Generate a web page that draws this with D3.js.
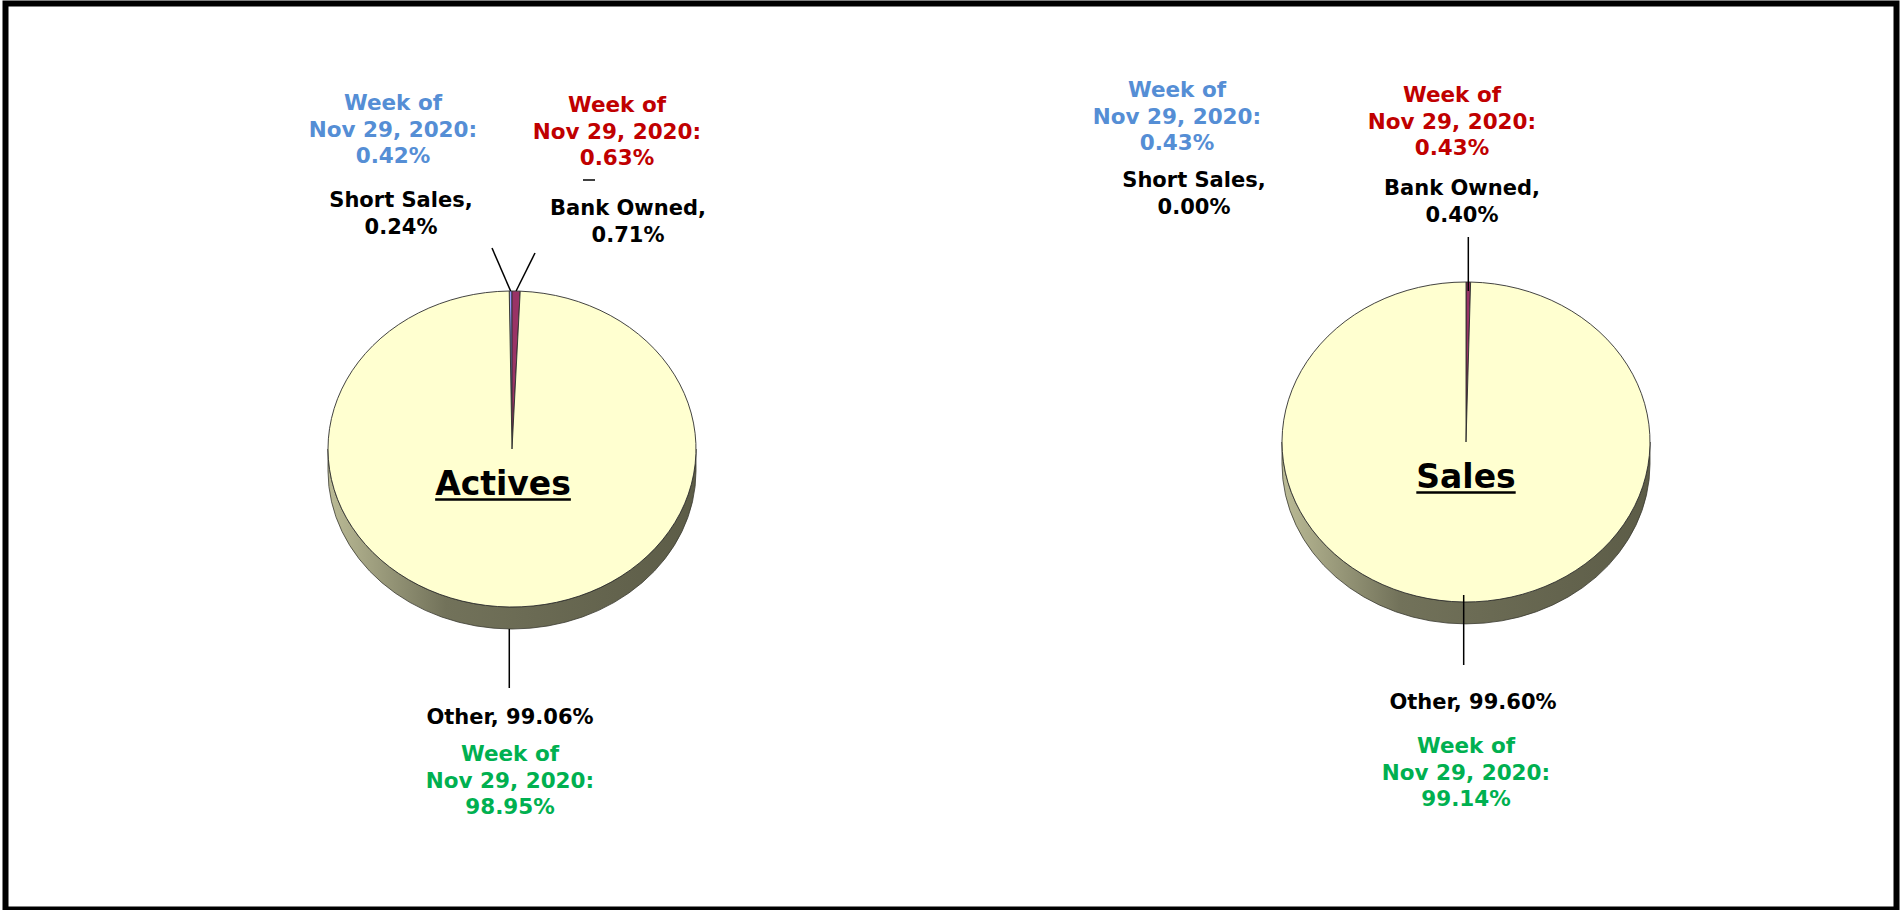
<!DOCTYPE html>
<html>
<head>
<meta charset="utf-8">
<script src="https://cdn.jsdelivr.net/npm/d3@7"></script>
<style>
  html, body { margin: 0; padding: 0; background: #fff; }
  svg text { font-family: "DejaVu Sans", Lato, sans-serif; font-weight: 700; }
</style>
</head>
<body>
<div id="chart"></div>
<script>
// data
const categories = ["Short Sales", "Bank Owned", "Other"];
const pieTitles = ["Actives", "Sales"];
const activesValues = [0.24, 0.71, 99.06];
const salesValues = [0.00, 0.40, 99.60];
const activesPrevWeek = [0.42, 0.63, 98.95];
const salesPrevWeek = [0.43, 0.43, 99.14];
const prevWeekText = ["Week of", "Nov 29, 2020:"];

const sliceColors = ["#9999FF", "#993366", "#FFFFD0"];
const prevColors = ["#558ED5", "#C00000", "#00B050"];

const width = 1902, height = 910;

const svg = d3.select("#chart").append("svg")
  .attr("width", width)
  .attr("height", height);

// side gradient
const grad = svg.append("defs").append("linearGradient")
  .attr("id", "side").attr("x1", "0%").attr("x2", "100%");
grad.append("stop").attr("offset", "0%").attr("stop-color", "#BBBB96");
grad.append("stop").attr("offset", "32%").attr("stop-color", "#72725A");
grad.append("stop").attr("offset", "100%").attr("stop-color", "#5C5C47");

// frame
svg.append("rect")
  .attr("x", 5.5).attr("y", 3.5)
  .attr("width", 1891).attr("height", 906)
  .attr("fill", "none").attr("stroke", "#000").attr("stroke-width", 6);

// layout per pie; leader = [end x or null for vertical, end y, start dy]
const layouts = [
  {
    cx: 512, cy: 449, rx: 184, ry: 158, depth: 22,
    labels: [[401, 207], [628, 215], [510, 724]],
    prev: [[393, 110], [617, 112], [510, 761]],
    leaders: [[492, 248, 0], [535, 253, 0], [null, 688, 22]],
    titleDx: -9,
    dash: true
  },
  {
    cx: 1466, cy: 442, rx: 184, ry: 160, depth: 22,
    labels: [[1194, 187], [1462, 195], [1473, 709]],
    prev: [[1177, 97], [1452, 102], [1466, 753]],
    leaders: [null, [null, 237, 9], [null, 665, -7]],
    titleDx: 0,
    dash: false
  }
];

const pie = d3.pie().sort(null).value(d => d);

function drawPie(values, prevValues, title, L) {
  const g = svg.append("g");
  // rotate so that the first slice ends at 12 o'clock
  const total = d3.sum(values);
  const start = -values[0] / total * 2 * Math.PI;
  const arcs = pie.startAngle(start).endAngle(start + 2 * Math.PI)(values);

  const pt = a => [L.cx + L.rx * Math.sin(a), L.cy - L.ry * Math.cos(a)];

  // side wall (front half)
  g.append("path")
    .attr("d", `M${L.cx - L.rx},${L.cy} A${L.rx},${L.ry} 0 0 0 ${L.cx + L.rx},${L.cy}` +
      ` L${L.cx + L.rx},${L.cy + L.depth} A${L.rx},${L.ry} 0 0 1 ${L.cx - L.rx},${L.cy + L.depth} Z`)
    .attr("fill", "url(#side)")
    .attr("stroke", "#3a3a30").attr("stroke-width", 0.8);

  // top face
  const arc = d3.arc().innerRadius(0).outerRadius(L.rx);
  g.append("g")
    .attr("transform", `translate(${L.cx},${L.cy}) scale(1,${L.ry / L.rx})`)
    .selectAll("path")
    .data(arcs)
    .join("path")
    .attr("d", arc)
    .attr("fill", (d, i) => sliceColors[i])
    .attr("stroke", "#2e2e2e")
    .attr("stroke-width", 0.9)
    .attr("vector-effect", "non-scaling-stroke");

  // leader lines
  arcs.forEach((d, i) => {
    const ld = L.leaders[i];
    if (!ld) return;
    const p = pt((d.startAngle + d.endAngle) / 2);
    const x2 = ld[0] === null ? p[0] : ld[0];
    g.append("line")
      .attr("x1", p[0]).attr("y1", p[1] + ld[2])
      .attr("x2", x2).attr("y2", ld[1])
      .attr("stroke", "#000").attr("stroke-width", 1.5);
  });

  // category labels
  const fmt = v => v.toFixed(2) + "%";
  categories.forEach((c, i) => {
    const [x, y] = L.labels[i];
    const lines = i === 2 ? [c + ", " + fmt(values[i])] : [c + ",", fmt(values[i])];
    const t = g.append("text")
      .attr("x", x).attr("y", y)
      .attr("text-anchor", "middle")
      .attr("font-size", 21)
      .attr("fill", "#000");
    lines.forEach((s, k) => t.append("tspan").attr("x", x).attr("dy", k ? 26.5 : 0).text(s));
  });

  // previous week labels
  prevValues.forEach((v, i) => {
    const [x, y] = L.prev[i];
    const t = g.append("text")
      .attr("x", x).attr("y", y)
      .attr("text-anchor", "middle")
      .attr("font-size", 21.5)
      .attr("fill", prevColors[i]);
    prevWeekText.concat([fmt(v)]).forEach((s, k) =>
      t.append("tspan").attr("x", x).attr("dy", k ? 26.5 : 0).text(s));
  });

  // stray dash under the red label
  if (L.dash) {
    const [x, y] = L.prev[1];
    g.append("line")
      .attr("x1", x - 34).attr("x2", x - 22)
      .attr("y1", y + 68).attr("y2", y + 68)
      .attr("stroke", "#000").attr("stroke-width", 1.5);
  }

  // title, underlined
  const tx = L.cx + L.titleDx;
  const tt = g.append("text")
    .attr("x", tx).attr("y", L.cy + 46)
    .attr("text-anchor", "middle")
    .attr("font-size", 33)
    .attr("fill", "#000")
    .text(title);
  const w = tt.node().getComputedTextLength();
  g.append("line")
    .attr("x1", tx - w / 2).attr("x2", tx + w / 2)
    .attr("y1", L.cy + 50.5).attr("y2", L.cy + 50.5)
    .attr("stroke", "#000").attr("stroke-width", 2.5);
}

drawPie(activesValues, activesPrevWeek, pieTitles[0], layouts[0]);
drawPie(salesValues, salesPrevWeek, pieTitles[1], layouts[1]);
</script>
</body>
</html>
